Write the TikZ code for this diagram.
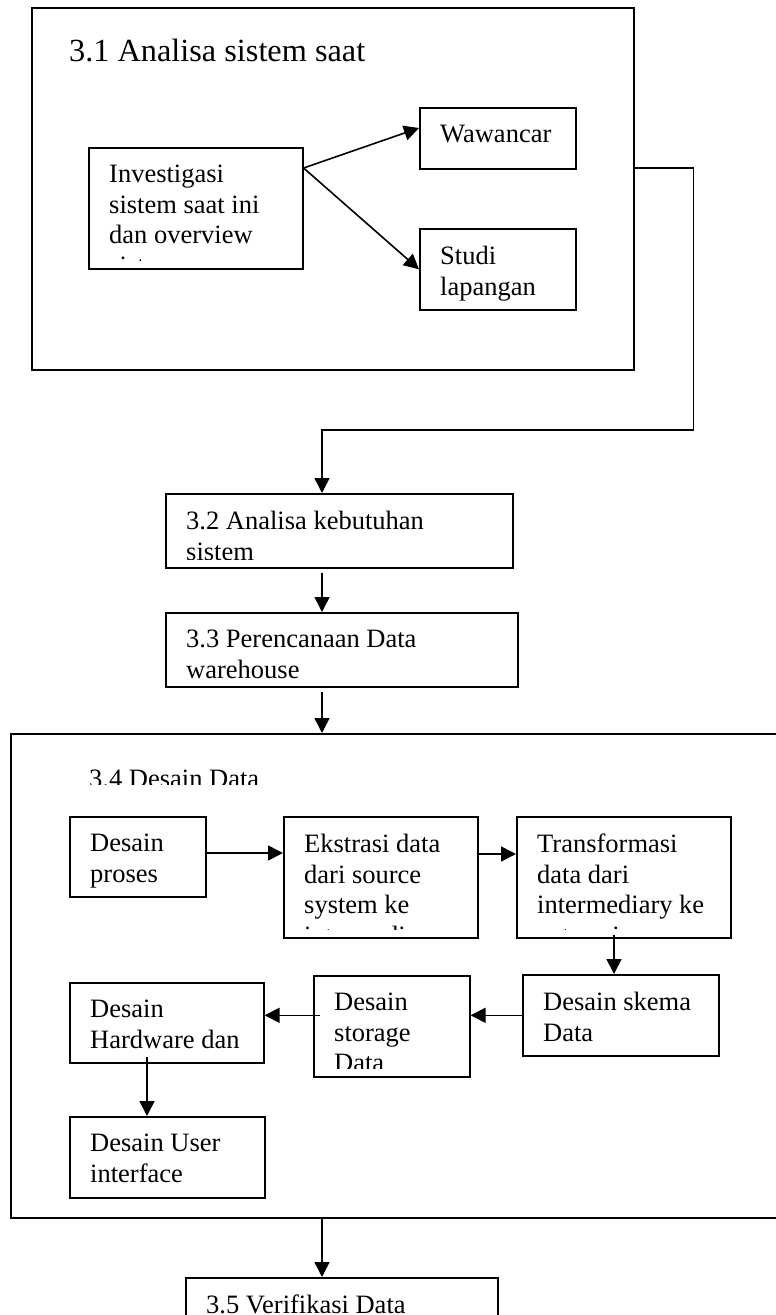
\documentclass[tikz,border=0pt]{standalone}
\usepackage{fontspec}
\setmainfont{Liberation Serif}
\usetikzlibrary{arrows.meta,calc}

\tikzset{
  kotak/.style={draw, line width=1.6pt, anchor=north west, inner sep=0pt},
  isi/.style={anchor=north west, inner sep=0pt, align=left,
    font=\fontsize{26.5pt}{30.5pt}\selectfont},
  panah/.style={line width=1.6pt, -{Triangle[length=15pt,width=15pt]}},
}

\begin{document}
\begin{tikzpicture}[x=1pt,y=-1pt]
\useasboundingbox (0,0) rectangle (776,1315);
\clip (0,0) rectangle (776,1315);
%
% 3.1 caja grande
\node[kotak, minimum width=602, minimum height=362] (analisa) at (31,7) {};
\node[anchor=base west, inner sep=0pt, font=\fontsize{32.3pt}{38pt}\selectfont] (judul31) at (69,61) {3.1 Analisa sistem saat};
%
\node[kotak, minimum width=214, minimum height=121] (invest) at (88,147) {};
\begin{scope}
\clip (invest.north west) rectangle ([yshift=9.5pt]invest.south east);
\node[isi] (invest-t) at ([shift={(21pt,-18pt)}]invest.north west) {Investigasi\\sistem saat ini\\dan overview\\sistem};
\end{scope}
%
\node[kotak, minimum width=156, minimum height=61] (wawancar) at (419,107) {};
\begin{scope}
\clip (wawancar.north west) rectangle ([yshift=9.5pt]wawancar.south east);
\node[isi] (wawancar-t) at ([shift={(21pt,-18pt)}]wawancar.north west) {Wawancar};
\end{scope}
%
\node[kotak, minimum width=156, minimum height=81] (studi) at (419,228) {};
\begin{scope}
\clip (studi.north west) rectangle ([yshift=9.5pt]studi.south east);
\node[isi] (studi-t) at ([shift={(21pt,-18pt)}]studi.north west) {Studi\\lapangan};
\end{scope}
%
% 3.2 y 3.3
\node[kotak, minimum width=347, minimum height=74] (kebutuhan) at (165,493) {};
\begin{scope}
\clip (kebutuhan.north west) rectangle ([yshift=9.5pt]kebutuhan.south east);
\node[isi] (kebutuhan-t) at ([shift={(21pt,-18pt)}]kebutuhan.north west) {3.2 Analisa kebutuhan\\sistem};
\end{scope}
%
\node[kotak, minimum width=352, minimum height=74] (perencanaan) at (165,612) {};
\begin{scope}
\clip (perencanaan.north west) rectangle ([yshift=9.5pt]perencanaan.south east);
\node[isi] (perencanaan-t) at ([shift={(21pt,-18pt)}]perencanaan.north west) {3.3 Perencanaan Data\\warehouse};
\end{scope}
%
% 3.4 caja grande
\node[kotak, minimum width=790, minimum height=484] (desain) at (10,733) {};
\begin{scope}
\clip (desain.north west) rectangle (776,784);
\node[anchor=base west, inner sep=0pt, font=\fontsize{26.5pt}{31pt}\selectfont] (judul34) at (89,787) {3.4 Desain Data};
\end{scope}
%
\node[kotak, minimum width=136, minimum height=80] (proses) at (69,816) {};
\begin{scope}
\clip (proses.north west) rectangle ([yshift=9.5pt]proses.south east);
\node[isi] (proses-t) at ([shift={(21pt,-18pt)}]proses.north west) {Desain\\proses};
\end{scope}
%
\node[kotak, minimum width=194, minimum height=121] (ekstrasi) at (283,816) {};
\begin{scope}
\clip (ekstrasi.north west) rectangle ([yshift=9.5pt]ekstrasi.south east);
\node[isi] (ekstrasi-t) at ([shift={(21pt,-18pt)}]ekstrasi.north west) {Ekstrasi data\\dari source\\system ke\\intermediary};
\end{scope}
%
\node[kotak, minimum width=214, minimum height=121] (transformasi) at (516,816) {};
\begin{scope}
\clip (transformasi.north west) rectangle ([yshift=9.5pt]transformasi.south east);
\node[isi] (transformasi-t) at ([shift={(21pt,-18pt)}]transformasi.north west) {Transformasi\\data dari\\intermediary ke\\enterprise};
\end{scope}
%
\node[kotak, minimum width=196, minimum height=81] (skema) at (522,974) {};
\begin{scope}
\clip (skema.north west) rectangle ([yshift=9.5pt]skema.south east);
\node[isi] (skema-t) at ([shift={(21pt,-18pt)}]skema.north west) {Desain skema\\Data};
\end{scope}
%
\node[kotak, minimum width=156, minimum height=101] (storage) at (313,975) {};
\begin{scope}
\clip (storage.north west) rectangle ([yshift=9.5pt]storage.south east);
\node[isi] (storage-t) at ([shift={(21pt,-18pt)}]storage.north west) {Desain\\storage\\Data};
\end{scope}
%
\node[kotak, minimum width=194, minimum height=80] (hardware) at (69,982) {};
\begin{scope}
\clip (hardware.north west) rectangle ([yshift=9.5pt]hardware.south east);
\node[isi] (hardware-t) at ([shift={(21pt,-18pt)}]hardware.north west) {Desain\\Hardware dan};
\end{scope}
%
\node[kotak, minimum width=195, minimum height=81] (user) at (69,1116) {};
\begin{scope}
\clip (user.north west) rectangle ([yshift=9.5pt]user.south east);
\node[isi] (user-t) at ([shift={(21pt,-18pt)}]user.north west) {Desain User\\interface};
\end{scope}
%
% 3.5
\node[kotak, minimum width=312, minimum height=80] (verifikasi) at (185,1277) {};
\node[isi] (verifikasi-t) at ([shift={(21pt,-17.3pt)}]verifikasi.north west) {3.5 Verifikasi Data};
%
% flechas
\coordinate (cabang) at ($(invest.north east)+(0,21)$);
\coordinate (belok) at (322,430);
\draw[panah] (cabang) -- ($(wawancar.north west)+(0,21)$);
\draw[panah] (cabang) -- (studi.west);
\draw[panah] (cabang -| analisa.east) -- ++(59,0) |- (belok) -- (belok |- kebutuhan.north);
\draw[panah] ($(belok |- kebutuhan.south)+(0,4)$) -- (belok |- perencanaan.north);
\draw[panah] ($(belok |- perencanaan.south)+(0,4)$) -- (belok |- desain.north);
\draw[panah] (belok |- desain.south) -- (belok |- verifikasi.north);
%
\coordinate (p1) at ($(proses.north east)+(0,37)$);
\coordinate (p2) at ($(ekstrasi.north east)+(0,38)$);
\coordinate (p3) at ($(transformasi.south west)+(98,-4)$);
\coordinate (p4) at ($(skema.west -| storage.west)+(7,0)$);
\coordinate (p5) at ($(hardware.south west)+(78,-7)$);
\draw[panah] (p1) -- (p1 -| ekstrasi.west);
\draw[panah] (p2) -- (p2 -| transformasi.west);
\draw[panah] (p3) -- (p3 |- skema.north);
\draw[panah] (skema.west) -- (skema.west -| storage.east);
\draw[panah] (p4) -- (p4 -| hardware.east);
\draw[panah] (p5) -- (p5 |- user.north);
%
\end{tikzpicture}
\end{document}
